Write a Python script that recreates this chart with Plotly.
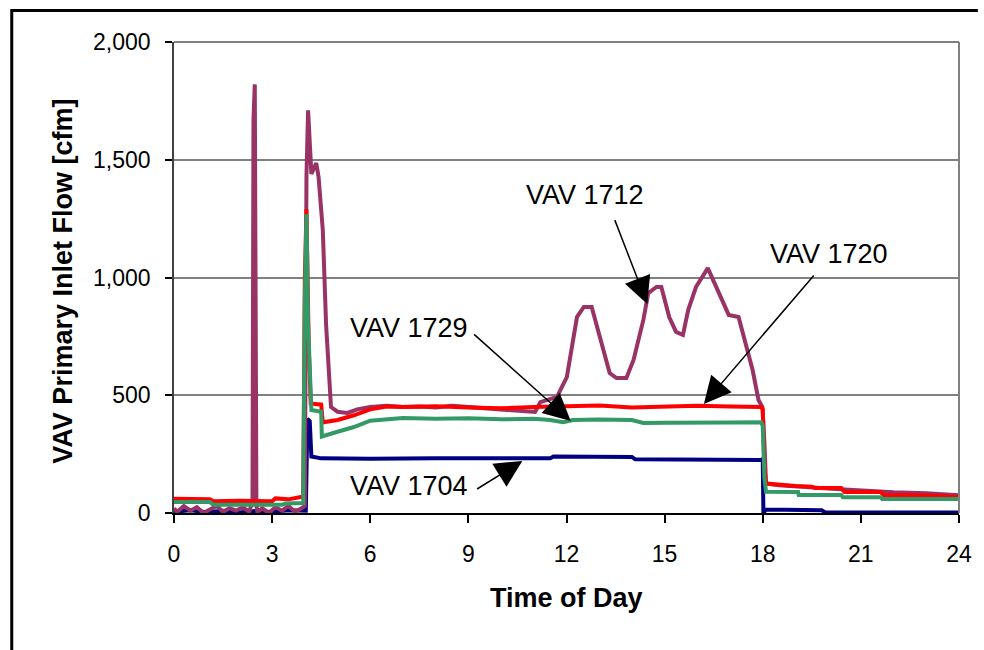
import plotly.graph_objects as go

# ---------------- data ----------------
t_1712 = [0, 0.1, 0.3, 0.5, 0.7, 0.9, 1.1, 1.3, 1.5, 1.7, 1.9, 2.1, 2.3, 2.40, 2.43, 2.47, 2.52, 2.55,
          2.7, 2.9, 3.1, 3.3, 3.5, 3.7, 3.9, 4.0, 4.05, 4.1, 4.2, 4.35, 4.42, 4.48, 4.55, 4.65, 4.8,
          5.0, 5.3, 5.6, 6.0, 6.5, 7.0, 7.5, 8.0, 8.5, 9.0, 9.5, 10.0, 10.5, 11.04, 11.2, 11.71,
          12.01, 12.32, 12.53, 12.77, 13.02, 13.32, 13.53, 13.83, 14.05, 14.35, 14.5, 14.75, 14.9,
          15.14, 15.35, 15.56, 15.72, 15.96, 16.32, 16.57, 16.78, 16.96, 17.26, 17.48, 17.69, 17.87,
          17.99, 18.05, 18.1, 18.5, 19.0, 19.5, 20.0, 20.5, 21.0, 22.0, 23.0, 24.0]
v_1712 = [20, 5, 30, 10, 25, 0, 15, 30, 5, 20, 10, 25, 5, 50, 1670, 1820, 30, 5,
          20, 0, 25, 10, 30, 5, 20, 30, 1430, 1710, 1440, 1486, 1427, 1340, 1200, 800, 450,
          430, 425, 440, 450, 455, 450, 452, 448, 455, 450, 445, 440, 438, 429, 471, 493,
          577, 832, 875, 875, 747, 594, 573, 573, 650, 820, 934, 960, 960,
          832, 769, 756, 862, 960, 1040, 960, 892, 841, 832, 722, 607, 480,
          450, 300, 125, 118, 112, 110, 104, 100, 95, 88, 84, 75]

t_1720 = [0, 1.1, 1.2, 2.0, 3.0, 3.1, 3.5, 3.8, 3.95, 4.0, 4.05, 4.12, 4.18, 4.5, 4.55, 5.0, 5.5,
          6.0, 6.5, 7.0, 8.0, 9.0, 10.0, 11.0, 12.0, 13.0, 14.0, 15.0, 16.0, 17.0, 17.95, 18.0,
          18.05, 18.1, 18.5, 19.0, 19.5, 19.6, 20.4, 20.5, 21.6, 21.7, 23.0, 24.0]
v_1720 = [60, 58, 50, 52, 50, 62, 58, 65, 70, 1000, 1290, 700, 465, 460, 385, 395, 415,
          440, 452, 450, 453, 448, 445, 450, 452, 456, 448, 452, 455, 452, 450, 440,
          200, 125, 120, 115, 112, 106, 106, 89, 89, 76, 74, 68]

t_1729 = [0, 1.1, 1.2, 2.0, 3.3, 3.4, 3.95, 4.0, 4.05, 4.1, 4.2, 4.5, 4.52, 5.0, 5.5, 6.0, 6.5,
          7.0, 8.0, 9.0, 10.0, 11.0, 11.5, 11.9, 12.2, 13.0, 14.0, 14.35, 15.0, 16.0, 17.0, 17.95,
          18.0, 18.05, 18.1, 19.08, 19.1, 20.4, 20.45, 21.6, 21.65, 24.0]
v_1729 = [47, 47, 35, 36, 35, 40, 42, 900, 1270, 800, 437, 430, 325, 345, 365, 392, 398,
          403, 400, 402, 398, 400, 395, 386, 395, 397, 395, 382, 383, 382, 384, 385,
          370, 150, 90, 89, 76, 76, 67, 67, 59, 59]

t_1704 = [0, 0.5, 1.0, 1.5, 2.0, 2.5, 3.0, 3.5, 4.03, 4.08, 4.15, 4.2, 4.5, 6.0, 8.0, 10.0, 11.5,
          11.6, 13.0, 14.0, 14.1, 16.0, 17.95, 18.0, 18.02, 18.1, 19.0, 19.8, 19.9, 22.0, 24.0]
v_1704 = [5, 12, 3, 10, 2, 8, 4, 12, 10, 400, 390, 240, 232, 230, 232, 231, 232,
          240, 238, 238, 228, 226, 225, 230, 0, 15, 14, 12, 3, 4, 2]

x_ticks = [0, 3, 6, 9, 12, 15, 18, 21, 24]
y_ticks = [0, 500, 1000, 1500, 2000]

series = [
    ("VAV 1704", t_1704, v_1704, "#000080"),
    ("VAV 1712", t_1712, v_1712, "#993366"),
    ("VAV 1720", t_1720, v_1720, "#FF0000"),
    ("VAV 1729", t_1729, v_1729, "#339966"),
]

# label text positions and arrow (tail -> tip), in data units
labels = [
    ("VAV 1712", 12.56, 1350, (13.46, 1250), (14.47, 887)),
    ("VAV 1720", 20.02, 1100, (19.6, 1015), (16.2, 463)),
    ("VAV 1729", 7.19, 785, (9.13, 764), (12.13, 391)),
    ("VAV 1704", 7.17, 115, (9.22, 98), (10.65, 221)),
]

FONT = "Liberation Sans, Arial, sans-serif"

fig = go.Figure()
for name, t, v, c in series:
    fig.add_trace(go.Scatter(x=t, y=v, mode="lines", name=name,
                             line=dict(color=c, width=4), showlegend=False))

ann = []
for txt, tx, ty, tail, tip in labels:
    ann.append(dict(x=tx, y=ty, xref="x", yref="y", text=txt, showarrow=False,
                    font=dict(family=FONT, size=27, color="black"),
                    xanchor="center", yanchor="middle"))
    ann.append(dict(x=tip[0], y=tip[1], xref="x", yref="y", text="",
                    ax=tail[0], ay=tail[1], axref="x", ayref="y",
                    showarrow=True, arrowhead=2, arrowsize=3.6, arrowwidth=1.5,
                    arrowcolor="black", standoff=0))

# axis titles
ann.append(dict(x=-0.1416, y=0.493, xref="paper", yref="paper",
                text="<b>VAV Primary Inlet Flow [cfm]</b>", showarrow=False, textangle=-90,
                font=dict(family=FONT, size=27, color="black"),
                xanchor="center", yanchor="middle"))
ann.append(dict(x=0.5, y=-0.18, xref="paper", yref="paper",
                text="<b>Time of Day</b>", showarrow=False,
                font=dict(family=FONT, size=27, color="black"),
                xanchor="center", yanchor="middle"))

# outer black frame: only its left and top edges fall inside the picture
fx = (10.5 - 174) / 791
fy_top = (513 - 10.5) / 471
fy_bot = (513 - 650) / 471
fx_right = (984 - 174) / 791
frame_path = f"M {fx},{fy_bot} L {fx},{fy_top} L {fx_right},{fy_top}"

shapes = [
    dict(type="path", xref="paper", yref="paper", path=frame_path,
         line=dict(color="black", width=3), fillcolor="rgba(0,0,0,0)", layer="above"),
    # gray plot-area border top & right
    dict(type="line", xref="paper", yref="paper", x0=0, x1=1, y0=1, y1=1,
         line=dict(color="#808080", width=2)),
    dict(type="line", xref="paper", yref="paper", x0=1, x1=1, y0=0, y1=1,
         line=dict(color="#808080", width=2)),
]

fig.update_layout(
    width=984, height=650,
    margin=dict(l=174, r=19, t=42, b=137),
    paper_bgcolor="white", plot_bgcolor="white",
    font=dict(family=FONT, color="black"),
    annotations=ann, shapes=shapes,
    xaxis=dict(range=[0, 24], tickvals=x_ticks, ticktext=[str(v) for v in x_ticks],
               showgrid=False, zeroline=False, showline=True, linecolor="black", linewidth=1.5,
               ticks="outside", ticklen=8, tickwidth=1.5, tickcolor="black",
               tickfont=dict(family=FONT, size=23, color="black"), ticklabelstandoff=12),
    yaxis=dict(range=[0, 2000], tickvals=y_ticks, ticktext=[f"{v:,}" for v in y_ticks],
               showgrid=True, gridcolor="#808080", gridwidth=1.5, zeroline=False,
               showline=True, linecolor="#404040", linewidth=1.5,
               ticks="outside", ticklen=7, tickwidth=1.5, tickcolor="black",
               tickfont=dict(family=FONT, size=23, color="black"), ticklabelstandoff=10),
)

fig.write_html("out.html")
